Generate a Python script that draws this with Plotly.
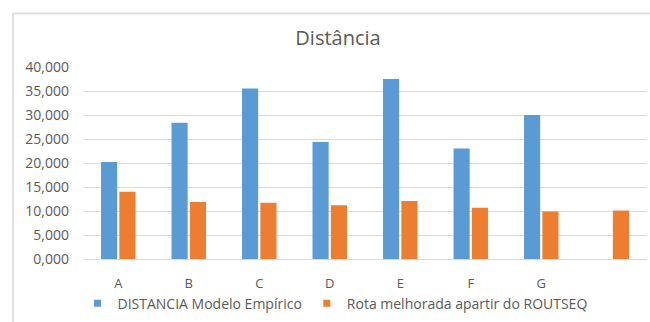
import plotly.graph_objects as go

# Categories (last slot only carries the ROUTSEQ value)
categories = ["A", "B", "C", "D", "E", "F", "G", " "]
distancia_empirico = [20.2, 28.4, 35.5, 24.4, 37.5, 23.0, 30.0, None]
rota_routseq = [14.0, 11.9, 11.7, 11.2, 12.1, 10.7, 9.9, 10.1]
y_ticks = [0, 5, 10, 15, 20, 25, 30, 35, 40]

BLUE = "#5b9bd5"
ORANGE = "#ed7d31"
TEXT = "#595959"
GRID = "#d9d9d9"
FONT = "'Open Sans', Lato, sans-serif"

fig = go.Figure()
fig.add_trace(go.Bar(
    x=categories, y=distancia_empirico, name="DISTANCIA Modelo Empírico",
    marker=dict(color=BLUE, line=dict(width=0)), showlegend=False,
))
fig.add_trace(go.Bar(
    x=categories, y=rota_routseq, name="Rota melhorada apartir do ROUTSEQ",
    marker=dict(color=ORANGE, line=dict(width=0)), showlegend=False,
))
# Legend entries with small square keys
for name, color in [("DISTANCIA Modelo Empírico", BLUE),
                    ("Rota melhorada apartir do ROUTSEQ", ORANGE)]:
    fig.add_trace(go.Scatter(
        x=[None], y=[None], mode="markers", name=name,
        marker=dict(symbol="square", size=7, color=color),
    ))

W, H = 650, 322
L, R, T, B = 83, 3, 67, 61
pw, ph = W - L - R, H - T - B

def px_x(p):
    return (p - L) / pw

def px_y(p):
    return (H - B - p) / ph

fig.update_layout(
    width=W, height=H,
    margin=dict(l=L, r=R, t=T, b=B, pad=0),
    paper_bgcolor="white", plot_bgcolor="white",
    separators=",.",
    font=dict(family=FONT, size=14, color=TEXT),
    barmode="group", bargap=0.48, bargroupgap=0.12,
    title=dict(text="Distância", xref="container", x=338 / W, xanchor="center",
               yref="container", y=1 - 38 / H, yanchor="middle",
               font=dict(family=FONT, size=20, color=TEXT)),
    xaxis=dict(showgrid=False, showline=True, linecolor=GRID, linewidth=1,
               ticks="", tickfont=dict(size=13, color=TEXT),
               ticklabelstandoff=12, fixedrange=True),
    yaxis=dict(range=[0, 40], tickvals=y_ticks, tickformat=".3f",
               showgrid=True, gridcolor=GRID, gridwidth=1, zeroline=False,
               showline=False, ticks="", tickfont=dict(size=14, color=TEXT),
               ticklabelstandoff=13, fixedrange=True),
    legend=dict(orientation="h", x=px_x(335), xanchor="center",
                y=px_y(306), yanchor="middle",
                font=dict(family=FONT, size=14, color=TEXT),
                itemwidth=30, bgcolor="rgba(0,0,0,0)"),
    shapes=[
        dict(type="path", xref="paper", yref="paper",
             path=f"M {px_x(13)} {px_y(340)} L {px_x(13)} {px_y(13)} L {px_x(660)} {px_y(13)}",
             line=dict(color="#e0e0e0", width=2)),
    ],
)

fig.write_html("out.html")
